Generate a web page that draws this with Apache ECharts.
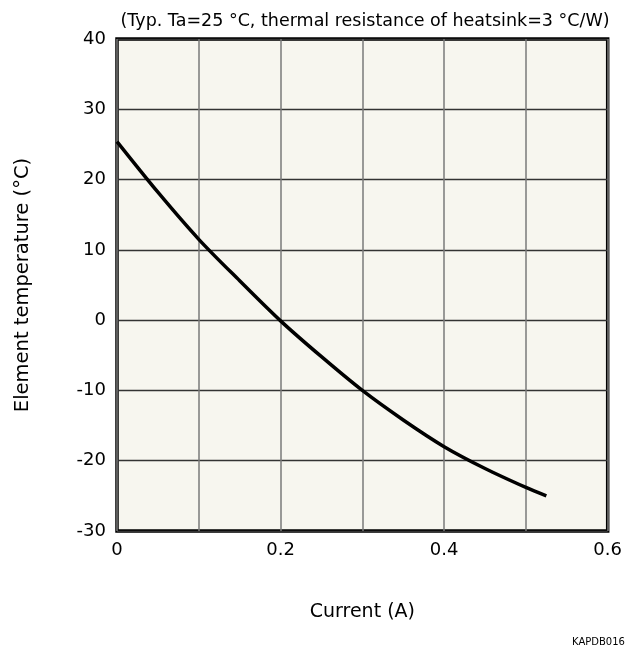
<!DOCTYPE html>
<html>
<head>
<meta charset="utf-8">
<script src="https://cdn.jsdelivr.net/npm/echarts@6/dist/echarts.min.js"></script>
<style>html,body{margin:0;padding:0;background:#fff}#c{width:625px;height:653px}</style>
</head>
<body>
<div id="c"></div>
<script>
// Data
var currentA = [0, 0.05, 0.1, 0.15, 0.2, 0.25, 0.3, 0.35, 0.4, 0.45, 0.5, 0.525];
var elementTemp = [25.4, 18.2, 11.5, 5.6, -0.1, -5.2, -10, -14.2, -18, -21.1, -23.8, -25.0];
var xTickLabels = ['0', '0.2', '0.4', '0.6'];
var yTickLabels = ['-30', '-20', '-10', '0', '10', '20', '30', '40'];
var titleText = '(Typ. Ta=25 °C, thermal resistance of heatsink=3 °C/W)';
var xName = 'Current (A)';
var yName = 'Element temperature (°C)';
var codeText = 'KAPDB016E';

var FONT = 'DejaVu Sans';
var chart = echarts.init(document.getElementById('c'), null, {renderer: 'canvas'});
var pts = currentA.map(function (x, i) { return [x, elementTemp[i]]; });

chart.setOption({
  animation: false,
  backgroundColor: '#ffffff',
  textStyle: {fontFamily: FONT},
  title: {
    text: titleText,
    left: 360, top: 7, textAlign: 'center',
    textStyle: {fontFamily: FONT, fontSize: 17.5, fontWeight: 'normal', color: '#000'}
  },
  graphic: [
    {type: 'text', left: 572, top: 637,
     style: {text: codeText, font: '10px ' + FONT, fill: '#000'}}
  ],
  grid: {
    left: 117, top: 39, width: 494, height: 492,
    show: true, backgroundColor: '#F7F6EF', borderColor: '#000', borderWidth: 3.5
  },
  xAxis: {
    type: 'value', min: 0, max: 0.6, interval: 0.1,
    name: xName, nameLocation: 'middle', nameGap: 72,
    nameTextStyle: {fontSize: 19, color: '#000', fontFamily: FONT},
    axisLine: {show: false},
    axisTick: {show: false},
    splitLine: {show: true, lineStyle: {color: '#7a7a7a', width: 1.5}},
    axisLabel: {
      margin: 10, color: '#000', fontSize: 18, fontFamily: FONT,
      formatter: function (v) {
        var k = Math.round(v * 10);
        if (k % 2 !== 0) return '';
        return xTickLabels[k / 2];
      }
    }
  },
  yAxis: {
    type: 'value', min: -30, max: 40, interval: 10,
    name: yName, nameLocation: 'middle', nameGap: 84,
    nameTextStyle: {fontSize: 19.5, color: '#000', fontFamily: FONT},
    axisLine: {show: false},
    axisTick: {show: false},
    splitLine: {show: true, lineStyle: {color: '#333', width: 1.3}},
    axisLabel: {
      margin: 11, color: '#000', fontSize: 18, fontFamily: FONT,
      formatter: function (v) {
        var i = Math.round((v + 30) / 10);
        return yTickLabels[i];
      }
    }
  },
  series: [{
    type: 'line', data: pts, smooth: 0.3, showSymbol: false,
    lineStyle: {color: '#000', width: 3.5}, z: 5
  }]
});
</script>
</body>
</html>
